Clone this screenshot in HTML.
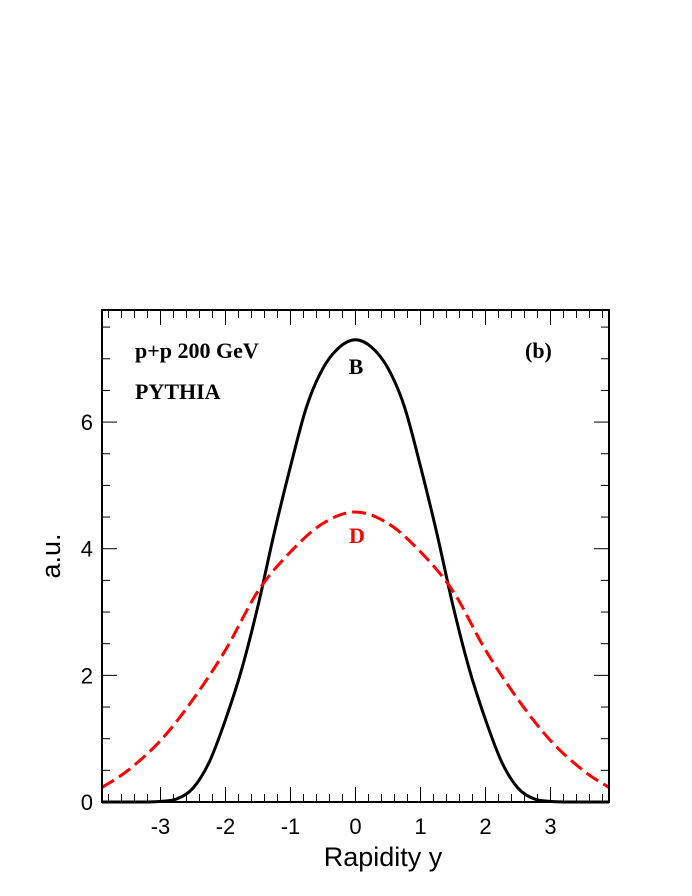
<!DOCTYPE html>
<html><head><meta charset="utf-8"><style>
html,body{margin:0;padding:0;background:#fff;}
svg{display:block;}
</style></head><body>
<svg id="chart" width="692" height="896" xmlns="http://www.w3.org/2000/svg">
<g id="axes"></g>
<g id="series"></g>
<rect x="102" y="310" width="507" height="492" fill="none" stroke="#000" stroke-width="2"/>
<text x="135" y="358" font-family="Liberation Serif, serif" font-weight="bold" font-size="22">p+p 200 GeV</text>
<text x="135" y="399" font-family="Liberation Serif, serif" font-weight="bold" font-size="22">PYTHIA</text>
<text x="525" y="358" font-family="Liberation Serif, serif" font-weight="bold" font-size="22">(b)</text>
<text x="356" y="374" text-anchor="middle" font-family="Liberation Serif, serif" font-weight="bold" font-size="22">B</text>
<text x="357" y="543" text-anchor="middle" fill="#ff0000" font-family="Liberation Serif, serif" font-weight="bold" font-size="22">D</text>
<text x="383" y="866" text-anchor="middle" font-family="Liberation Sans, sans-serif" font-size="27">Rapidity y</text>
<text transform="translate(60,556) rotate(-90)" text-anchor="middle" font-family="Liberation Sans, sans-serif" font-size="27">a.u.</text>
</svg>
<script>
const rapidity = [-3.9,-3.5,-3.25,-3,-2.75,-2.5,-2.25,-2,-1.75,-1.5,-1.25,-1,-0.75,-0.5,-0.25,0,0.25,0.5,0.75,1,1.25,1.5,1.75,2,2.25,2.5,2.75,3,3.25,3.5,3.9];
const bValues = [0,0,0,0.01,0.05,0.22,0.63,1.3,2.1,3.1,4.25,5.3,6.25,6.85,7.18,7.3,7.18,6.85,6.25,5.3,4.25,3.1,2.1,1.3,0.63,0.22,0.05,0.01,0,0,0];
const dRapidity = [-3.9,-3.5,-3,-2.5,-2,-1.5,-1,-0.5,0,0.5,1,1.5,2,2.5,3,3.5,3.9];
const dValues = [0.23,0.5,0.97,1.62,2.4,3.33,3.95,4.4,4.58,4.4,3.95,3.33,2.4,1.62,0.97,0.5,0.23];
const xTicks = [-3,-2,-1,0,1,2,3];
const yTicks = [0,2,4,6];
const X0=102,X1=609,Y0=802,Y1=310,XMIN=-3.9,XMAX=3.9,YMIN=0,YMAX=7.77;
const sx=v=>X0+(v-XMIN)/(XMAX-XMIN)*(X1-X0);
const sy=v=>Y0-(v-YMIN)/(YMAX-YMIN)*(Y0-Y1);
const NS="http://www.w3.org/2000/svg";
const axes=document.getElementById('axes'), series=document.getElementById('series');
function ln(x1,y1,x2,y2){const l=document.createElementNS(NS,'line');l.setAttribute('x1',x1);l.setAttribute('y1',y1);l.setAttribute('x2',x2);l.setAttribute('y2',y2);l.setAttribute('stroke','#000');l.setAttribute('stroke-width','1');axes.appendChild(l);return l;}
for(let i=-19;i<=19;i++){const v=i*0.2;const x=sx(v);const major=Math.abs(v-Math.round(v))<1e-6;const len=major?15:8;
 const a=ln(x,Y0,x,Y0-len);
 const b=ln(x,Y1,x,Y1+len);}
for(let i=0;i<=15;i++){const v=i*0.5;if(v>YMAX)break;const y=sy(v);const major=(v%2===0);const len=major?15:8;
 const a=ln(X0,y,X0+len,y);
 const b=ln(X1,y,X1-len,y);}
xTicks.forEach(v=>{const t=document.createElementNS(NS,'text');t.setAttribute('x',sx(v));t.setAttribute('y',834);t.setAttribute('text-anchor','middle');t.setAttribute('font-family','Liberation Sans, sans-serif');t.setAttribute('font-size','22');t.textContent=String(v);
 
 
 axes.appendChild(t);});
yTicks.forEach(v=>{const t=document.createElementNS(NS,'text');t.setAttribute('x',93);t.setAttribute('y',sy(v)+8);t.setAttribute('text-anchor','end');t.setAttribute('font-family','Liberation Sans, sans-serif');t.setAttribute('font-size','22');t.textContent=String(v);
 
 
 axes.appendChild(t);});
function curve(xs,ys){const n=xs.length;
 const pts=xs.map((x,i)=>[sx(x),sy(ys[i])]);
 let d='M'+pts[0][0]+','+pts[0][1];
 for(let i=0;i<n-1;i++){const p0=pts[Math.max(0,i-1)],p1=pts[i],p2=pts[i+1],p3=pts[Math.min(n-1,i+2)];
  const c1=[p1[0]+(p2[0]-p0[0])/6,p1[1]+(p2[1]-p0[1])/6],c2=[p2[0]-(p3[0]-p1[0])/6,p2[1]-(p3[1]-p1[1])/6];
  d+=' C'+c1[0]+','+c1[1]+' '+c2[0]+','+c2[1]+' '+p2[0]+','+p2[1];}
 const p=document.createElementNS(NS,'path');p.setAttribute('d',d);p.setAttribute('fill','none');return p;}
const bp=curve(rapidity,bValues);bp.setAttribute('stroke','#000');bp.setAttribute('stroke-width','3');


series.appendChild(bp);
const dp=curve(dRapidity,dValues);dp.setAttribute('stroke','#ff0000');dp.setAttribute('stroke-width','3');dp.setAttribute('stroke-dasharray','14,6');


series.appendChild(dp);
</script>
</body></html>
